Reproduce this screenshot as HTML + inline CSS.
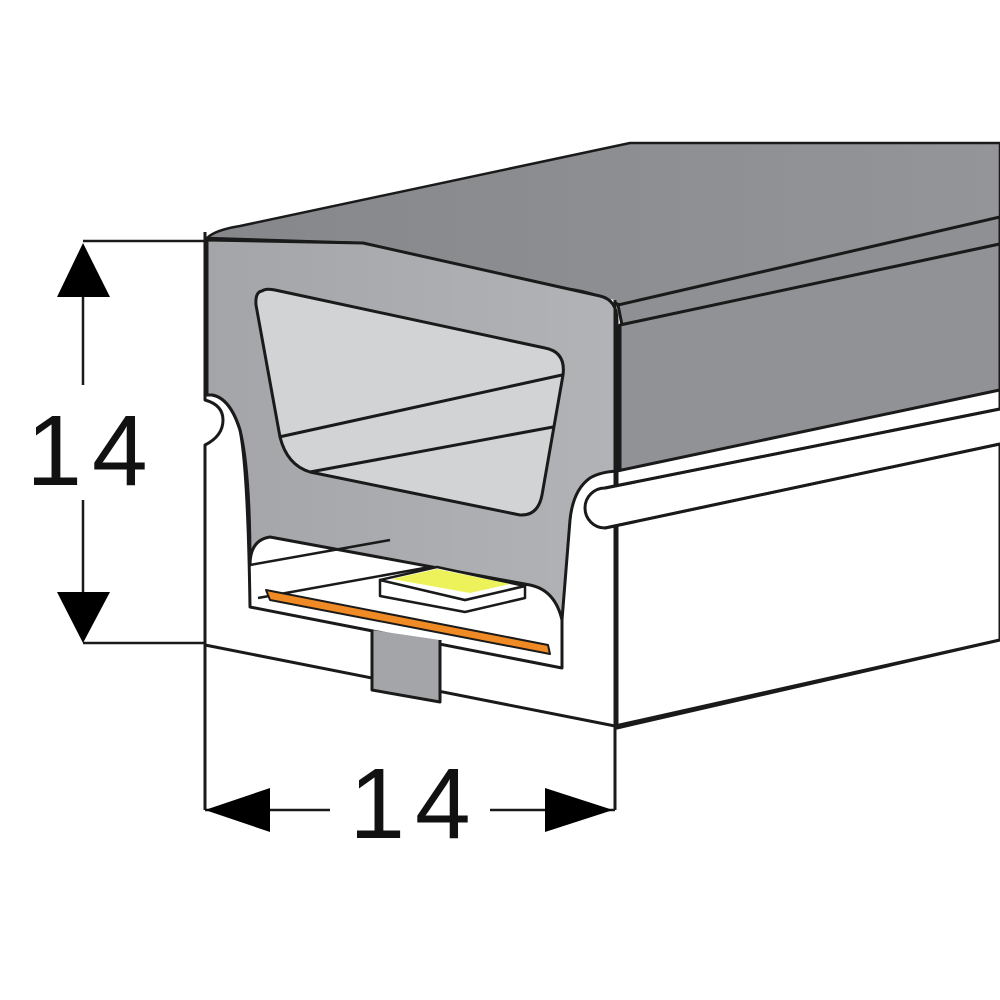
<!DOCTYPE html>
<html><head><style>html,body{margin:0;padding:0;background:#fff;width:1000px;height:1000px;overflow:hidden}</style></head>
<body>
<svg width="1000" height="1000" viewBox="0 0 1000 1000" xmlns="http://www.w3.org/2000/svg">
<defs>
<linearGradient id="tg" x1="0" y1="0" x2="1" y2="0"><stop offset="0" stop-color="#85878a"/><stop offset="1" stop-color="#939598"/></linearGradient>
<linearGradient id="fg" x1="0" y1="0" x2="1" y2="0"><stop offset="0" stop-color="#a4a5a8"/><stop offset="1" stop-color="#b2b3b6"/></linearGradient>
</defs>
<g stroke="#1a1a1a" stroke-width="3" stroke-linejoin="round" fill="none">
<path d="M207,238 Q215,230 240,226 L630,143 L1000,143 L1000,217 L620,305 Q590,290 560,288 L363,243 Z" fill="url(#tg)" stroke-width="2.5"/>
<path d="M618,305 L1000,217 L1000,244 L622,325 Z" fill="#8e9093"/>
<path d="M620,325 L1000,244 L1000,390 L620,471 Z" fill="#909295"/>
<path d="M617,471 L1000,390 L1000,640 L617,728 Z" fill="#fff"/>
<path d="M205,240 L205,645 L615,724 L615,300 Z" fill="#fff" stroke="none"/>
<path d="M207,240 L363,243 L600,296 Q617,300 617,320 L617,471 Q600,472 590,478 Q573,490 570,520 L562,620 Q555,590 530,585 L270,537 Q250,540 250,565 Q250,470 240,430 Q230,398 212,395 L207,395 Z" fill="url(#fg)"/>
<path d="M205,232 L205,400 Q223,405 223,420 Q223,436 205,445 L205,810" />
<path d="M212,395 Q230,398 240,430 Q248,470 250,607 L562,668 L562,620" />
<path d="M205,645 L615,726 L1000,640" />
<path d="M615,300 L615,810" />
<!-- bead drawn on top -->
<path d="M1000,409 L605,488 A20,20 0 0 0 605,528 L1000,444" fill="#fff"/>
<path d="M1000,411 L607,490 L607,526 L1000,442 Z" fill="#fff" stroke="none"/>
<path d="M1000,409 L605,488 M605,528 L1000,444"/>
<!-- window -->
<path d="M262,291 Q255,292 256,305 L280,437 Q287,465 310,472 L520,515 Q538,516 542,495 L563,375 Q566,352 545,348 L275,290 Q266,288 262,291 Z" fill="#d2d3d5"/>
<path d="M279,437 L562,375 M310,472 L553,427" />
<path d="M250,565 L390,540 M258,598 L430,567" stroke-width="2.5"/>
<path d="M380,580 L380,596 L465,612 L525,598 L525,586 L465,600 Z" fill="#fff" stroke-width="2.5"/>
<path d="M380,580 L437,567 L525,586 L465,600 Z" fill="#fff" stroke-width="2.5"/>
<path d="M392,579 L437,569 L510,584 L470,593 Z" fill="#eef25a" stroke="none"/>
<path d="M266,590 L270,600 L550,654 L548,645 Z" fill="#f08a25" stroke-width="2"/>
<path d="M372,630 L372,690 L440,702 L440,640" fill="#a4a5a8" stroke-width="3"/>
<path d="M83,241 L205,241 M83,643 L205,643 M83,297 L83,385 M83,500 L83,592 M205,810 L330,810 M490,810 L615,810" stroke-width="2.5"/>
</g>
<polygon points="83,243 57,297 110,297" fill="#000"/>
<polygon points="83,643 57,592 110,592" fill="#000"/>
<polygon points="205,810 270,788 270,832" fill="#000"/>
<polygon points="613,810 545,788 545,832" fill="#000"/>
<text x="92" y="485" font-family="Liberation Sans, sans-serif" font-size="100" letter-spacing="10" text-anchor="middle" fill="#111">14</text>
<text x="415" y="838" font-family="Liberation Sans, sans-serif" font-size="100" letter-spacing="10" text-anchor="middle" fill="#111">14</text>
</svg>
</body></html>
